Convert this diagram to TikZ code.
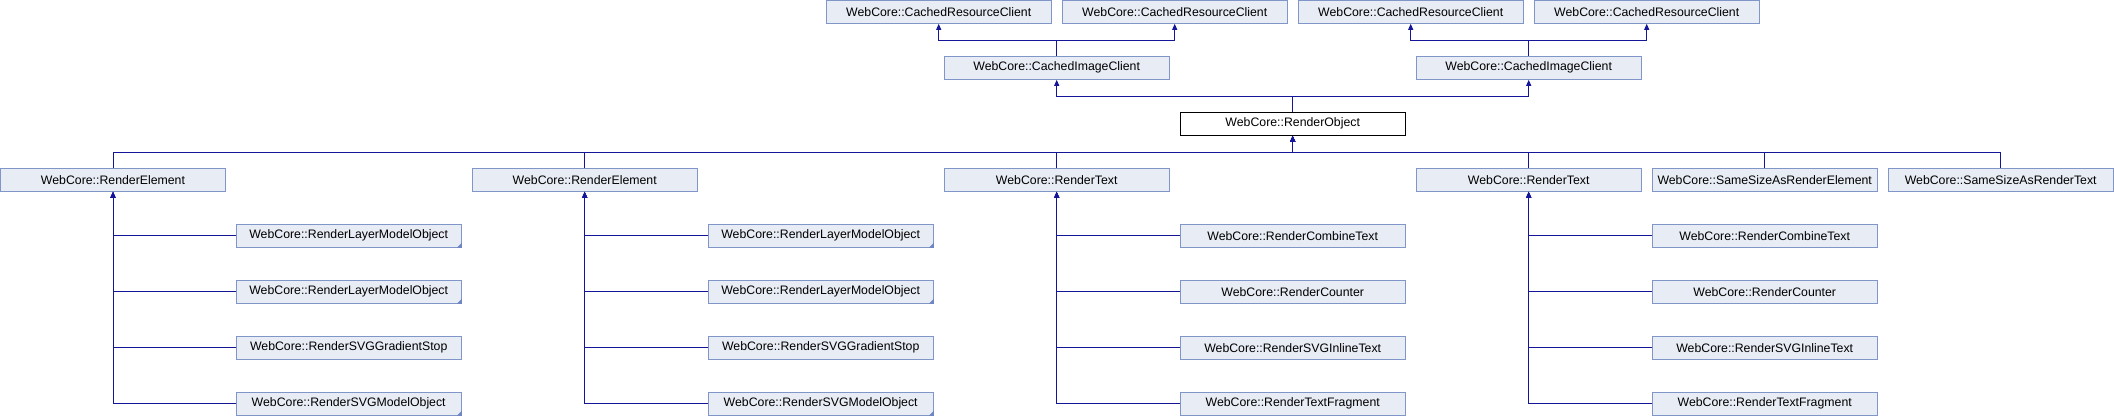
\documentclass[tikz,border=0pt]{standalone}
\usepackage{fontspec}
\setmainfont{Liberation Sans}
\usetikzlibrary{arrows.meta}
\definecolor{boxfill}{HTML}{E8ECF5}
\definecolor{boxline}{HTML}{8096C8}
\definecolor{edgeblue}{HTML}{15159A}
\definecolor{cornerblue}{HTML}{6F86C2}
\begin{document}
\begin{tikzpicture}[x=1pt,y=-1pt,
  cls/.style={draw=boxline, fill=boxfill, line width=1pt, minimum width=225.4pt, minimum height=23pt, inner sep=0pt, font=\fontsize{12.3}{14}\selectfont},
  root/.style={cls, draw=black, fill=white},
  inherit/.style={draw=edgeblue, line width=1pt, -{Triangle[width=5pt,length=6pt]}}]
\useasboundingbox (0,0) rectangle (2114,416);
% row 0
\node[cls] (crcA) at (938.7,11.8) {WebCore::CachedResourceClient};
\node[cls] (crcB) at (1174.7,11.8) {WebCore::CachedResourceClient};
\node[cls] (crcC) at (1410.7,11.8) {WebCore::CachedResourceClient};
\node[cls] (crcD) at (1646.7,11.8) {WebCore::CachedResourceClient};
% row 1
\node[cls] (cicA) at (1056.7,67.8) {WebCore::CachedImageClient};
\node[cls] (cicB) at (1528.7,67.8) {WebCore::CachedImageClient};
% row 2
\node[root] (ro) at (1292.7,123.8) {WebCore::RenderObject};
% row 3
\node[cls] (reA) at (113,179.8) {WebCore::RenderElement};
\node[cls] (reB) at (584.7,179.8) {WebCore::RenderElement};
\node[cls] (rtA) at (1056.7,179.8) {WebCore::RenderText};
\node[cls] (rtB) at (1528.7,179.8) {WebCore::RenderText};
\node[cls] (ssE) at (1764.7,179.8) {WebCore::SameSizeAsRenderElement};
\node[cls] (ssT) at (2000.7,179.8) {WebCore::SameSizeAsRenderText};
% children of RenderElement A
\node[cls] (rlmA1) at (348.7,235.8) {WebCore::RenderLayerModelObject};
\node[cls] (rlmA2) at (348.7,291.8) {WebCore::RenderLayerModelObject};
\node[cls] (gsA) at (348.7,347.8) {WebCore::RenderSVGGradientStop};
\node[cls] (smA) at (348.7,403.8) {WebCore::RenderSVGModelObject};
% children of RenderElement B
\node[cls] (rlmB1) at (820.7,235.8) {WebCore::RenderLayerModelObject};
\node[cls] (rlmB2) at (820.7,291.8) {WebCore::RenderLayerModelObject};
\node[cls] (gsB) at (820.7,347.8) {WebCore::RenderSVGGradientStop};
\node[cls] (smB) at (820.7,403.8) {WebCore::RenderSVGModelObject};
% children of RenderText A
\node[cls] (ctA) at (1292.7,235.8) {WebCore::RenderCombineText};
\node[cls] (cnA) at (1292.7,291.8) {WebCore::RenderCounter};
\node[cls] (siA) at (1292.7,347.8) {WebCore::RenderSVGInlineText};
\node[cls] (tfA) at (1292.7,403.8) {WebCore::RenderTextFragment};
% children of RenderText B
\node[cls] (ctB) at (1764.7,235.8) {WebCore::RenderCombineText};
\node[cls] (cnB) at (1764.7,291.8) {WebCore::RenderCounter};
\node[cls] (siB) at (1764.7,347.8) {WebCore::RenderSVGInlineText};
\node[cls] (tfB) at (1764.7,403.8) {WebCore::RenderTextFragment};
% truncation corner marks
\foreach \n in {rlmA1,rlmA2,smA,rlmB1,rlmB2,smB}
  \fill[cornerblue] (\n.south east) -- ++(-5,0) -- ++(5,-5) -- cycle;
% bus levels
\coordinate (busT) at (0,40.5);
\coordinate (busM) at (0,96.5);
\coordinate (busR) at (0,152.3);
% CachedImageClient -> CachedResourceClient
\draw[inherit] (cicA.north) -- (cicA.north |- busT) -| (crcA.south);
\draw[inherit] (cicA.north) -- (cicA.north |- busT) -| (crcB.south);
\draw[inherit] (cicB.north) -- (cicB.north |- busT) -| (crcC.south);
\draw[inherit] (cicB.north) -- (cicB.north |- busT) -| (crcD.south);
% RenderObject -> CachedImageClient
\draw[inherit] (ro.north) -- (ro.north |- busM) -| (cicA.south);
\draw[inherit] (ro.north) -- (ro.north |- busM) -| (cicB.south);
% row 3 -> RenderObject
\foreach \n in {reA,reB,rtA,rtB,ssE,ssT}
  \draw[inherit] (\n.north) -- (\n.north |- busR) -| (ro.south);
% children -> parents
\foreach \n in {rlmA1,rlmA2,gsA,smA}
  \draw[inherit] (\n.west) -| (reA.south);
\foreach \n in {rlmB1,rlmB2,gsB,smB}
  \draw[inherit] (\n.west) -| (reB.south);
\foreach \n in {ctA,cnA,siA,tfA}
  \draw[inherit] (\n.west) -| (rtA.south);
\foreach \n in {ctB,cnB,siB,tfB}
  \draw[inherit] (\n.west) -| (rtB.south);
\end{tikzpicture}
\end{document}
